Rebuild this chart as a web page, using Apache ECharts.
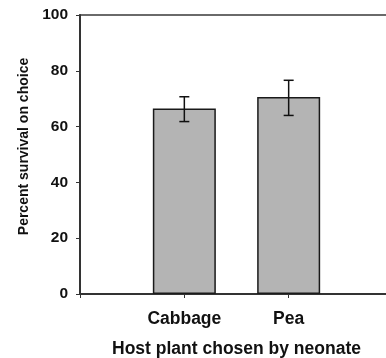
<!DOCTYPE html>
<html>
<head>
<meta charset="utf-8">
<script src="https://cdn.jsdelivr.net/npm/echarts@6/dist/echarts.min.js"></script>
<style>
html,body{margin:0;padding:0;background:#fff;}
#chart{width:386px;height:358px;}
</style>
</head>
<body>
<div id="chart"></div>
<script>
// Data
var categories = ['Cabbage', 'Pea'];
var survival = [66.5, 70.6];
var errUpper = [70.7, 76.6];
var errLower = [61.8, 64.0];
var yTicks = [0, 20, 40, 60, 80, 100];

var FONT = "'Liberation Sans', Arial, sans-serif";
var chart = echarts.init(document.getElementById('chart'), null, {renderer: 'canvas'});

var barData = categories.map(function (c, i) { return [i + 1, survival[i]]; });
var errData = categories.map(function (c, i) { return [i + 1, errLower[i], errUpper[i]]; });

chart.setOption({
  animation: false,
  backgroundColor: '#ffffff',
  grid: {
    left: 80, top: 15, width: 313, bottom: 64,
    containLabel: false, outerBoundsMode: 'none',
    show: true, borderColor: '#3a3a3a', borderWidth: 1.5, backgroundColor: 'transparent'
  },
  xAxis: {
    type: 'value', min: 0, max: 3, interval: 1,
    name: 'Host plant chosen by neonate',
    nameLocation: 'middle', nameGap: 46,
    nameTextStyle: {fontFamily: FONT, fontWeight: 'bold', fontSize: 17.5, color: '#111'},
    axisLine: {show: true, lineStyle: {color: '#333', width: 2}},
    axisTick: {show: true, length: 4, lineStyle: {color: '#333', width: 1}},
    splitLine: {show: false},
    axisLabel: {
      fontFamily: FONT, fontWeight: 'bold', fontSize: 17.5, color: '#111', margin: 16,
      formatter: function (v) { return categories[v - 1] || ''; }
    }
  },
  yAxis: {
    type: 'value', min: yTicks[0], max: yTicks[yTicks.length - 1], interval: 20,
    name: 'Percent survival on choice',
    nameLocation: 'middle', nameGap: 46, nameRotate: 90,
    nameTextStyle: {fontFamily: FONT, fontWeight: 'bold', fontSize: 14, color: '#111', padding: [0, 0, 0, 16]},
    axisLine: {show: true, lineStyle: {color: '#333', width: 2}},
    axisTick: {show: true, length: 4, lineStyle: {color: '#333', width: 1}},
    splitLine: {show: false},
    axisLabel: {fontFamily: FONT, fontWeight: 'bold', fontSize: 15.5, color: '#111', margin: 12}
  },
  series: [
    {
      type: 'bar',
      data: barData,
      barWidth: 63,
      itemStyle: {color: '#b4b4b4', borderColor: '#1a1a1a', borderWidth: 1.5},
      z: 2
    },
    {
      type: 'custom',
      data: errData,
      z: 5,
      renderItem: function (params, api) {
        var x = api.value(0);
        var lo = api.coord([x, api.value(1)]);
        var hi = api.coord([x, api.value(2)]);
        var hw = 5;
        var st = {stroke: '#111', lineWidth: 1.5};
        return {
          type: 'group',
          children: [
            {type: 'line', shape: {x1: hi[0], y1: hi[1], x2: lo[0], y2: lo[1]}, style: st},
            {type: 'line', shape: {x1: hi[0] - hw, y1: hi[1], x2: hi[0] + hw, y2: hi[1]}, style: st},
            {type: 'line', shape: {x1: lo[0] - hw, y1: lo[1], x2: lo[0] + hw, y2: lo[1]}, style: st}
          ]
        };
      }
    }
  ]
});
</script>
</body>
</html>
